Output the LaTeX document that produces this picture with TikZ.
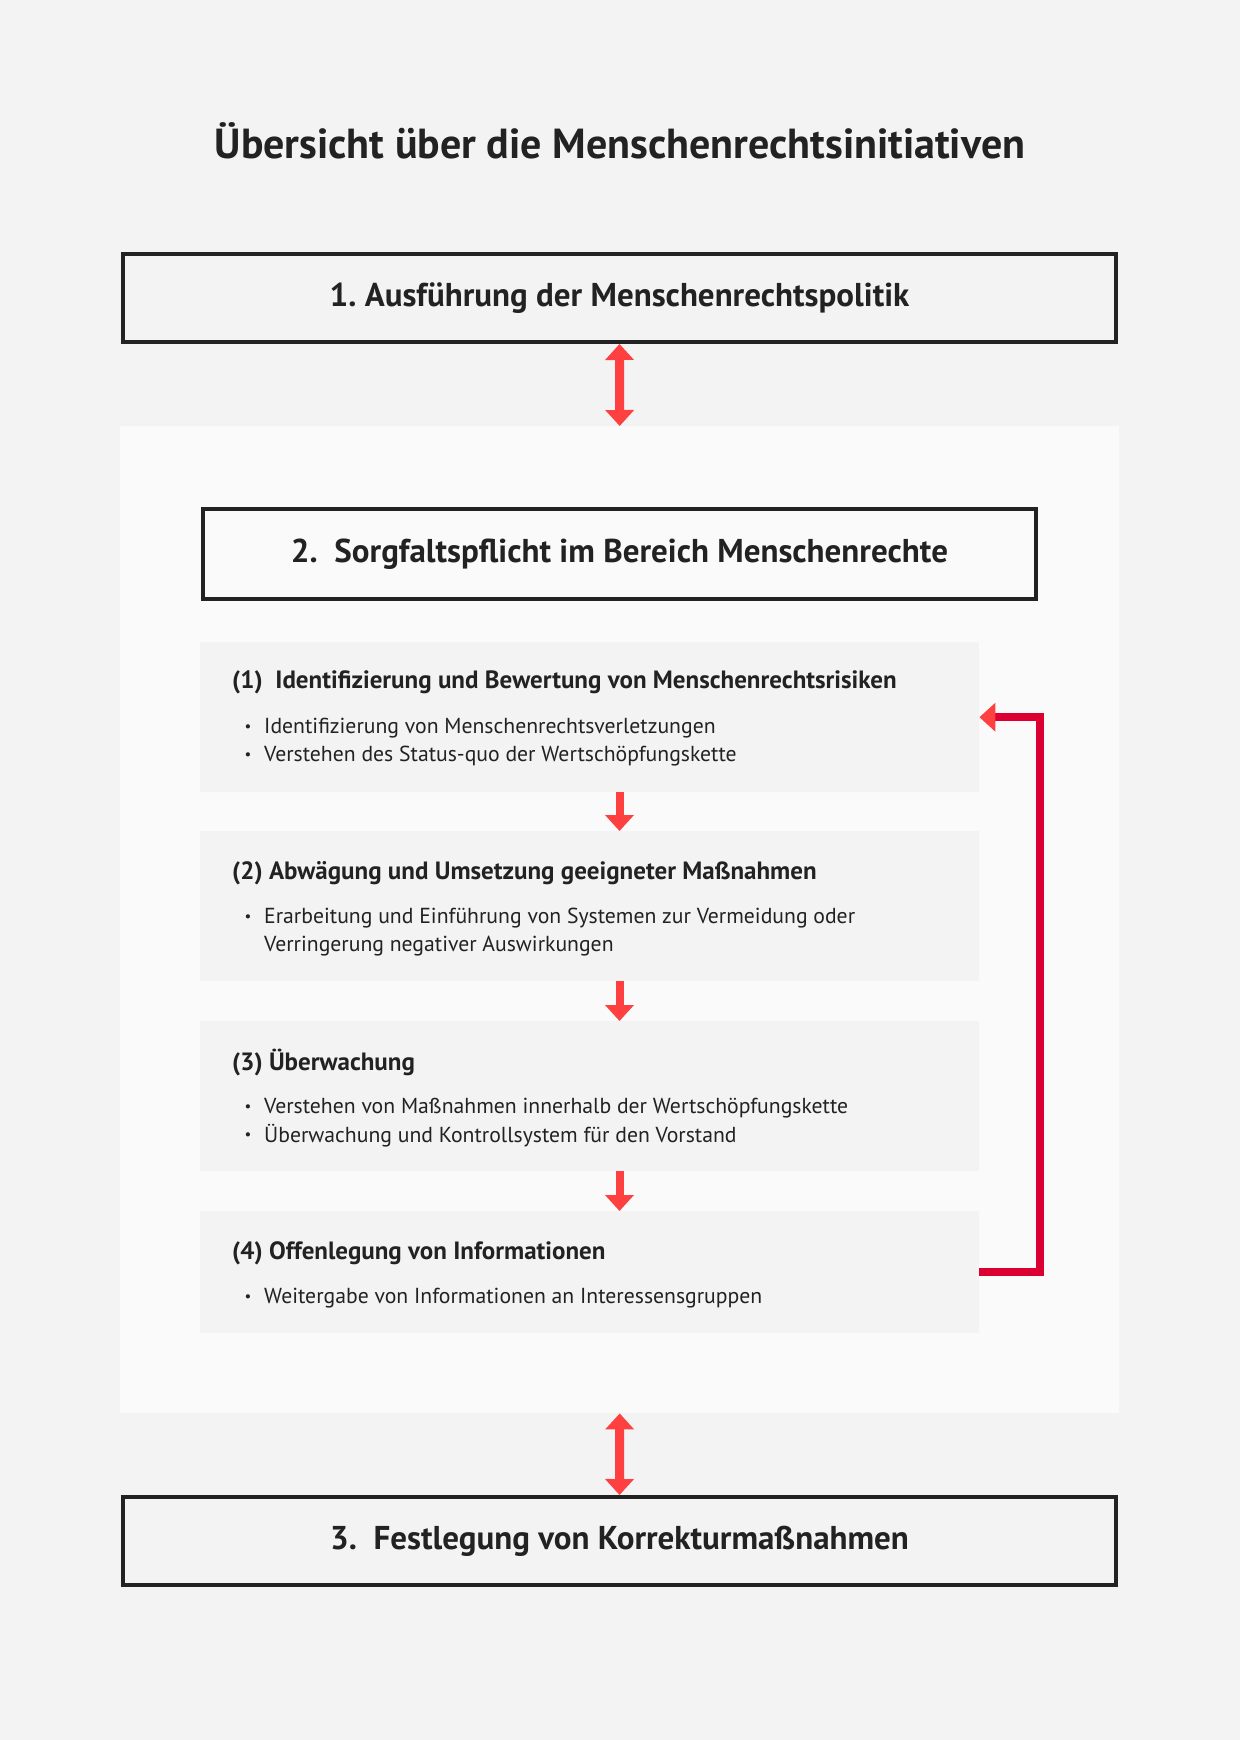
\documentclass[tikz,border=0pt]{standalone}
\usepackage{fontspec}
\setmainfont{PT Sans}
\usetikzlibrary{arrows.meta}
\definecolor{bg}{HTML}{F3F3F3}
\definecolor{panelc}{HTML}{FAFAFA}
\definecolor{stepc}{HTML}{F3F3F3}
\definecolor{ink}{HTML}{222222}
\definecolor{arrred}{HTML}{FF4040}
\definecolor{crim}{HTML}{DC0032}
\tikzset{
  mainbox/.style={draw=ink, line width=4pt, minimum width=993pt, minimum height=88pt, inner sep=0pt, text=ink, font=\fontsize{33}{38}\selectfont\bfseries},
  stepbox/.style={fill=stepc, draw=none, minimum width=779pt, anchor=north west, inner sep=0pt},
  head/.style={anchor=west, inner sep=0pt, text=ink, font=\fontsize{25}{29}\selectfont\bfseries},
  item/.style={anchor=west, inner sep=0pt, text=ink, font=\fontsize{21.7}{26}\selectfont},
  bul/.style={anchor=center, inner sep=0pt, text=ink, font=\fontsize{15}{18}\selectfont},
  dbl/.style={draw=arrred, line width=9pt, {Triangle[length=16pt,width=28pt]}-{Triangle[length=16pt,width=28pt]}},
  down/.style={draw=arrred, line width=8pt, -{Triangle[length=16pt,width=28pt]}},
  fb/.style={draw=crim, line width=8pt, line join=miter, -{Triangle[length=16pt,width=28pt,color=arrred,fill=arrred]}}
}
\begin{document}
\frenchspacing
\begin{tikzpicture}[x=1pt,y=-1pt]
\fill[bg] (0,0) rectangle (1240,1740);
\useasboundingbox (0,0) rectangle (1240,1740);
% title
\node[inner sep=0pt, text=ink, font=\fontsize{42}{48}\selectfont\bfseries] (title) at (620,141) {Übersicht über die Menschenrechtsinitiativen};
% panel
\node[fill=panelc, minimum width=999pt, minimum height=987pt, inner sep=0pt, anchor=north west] (panel) at (120,426) {};
% box 1
\node[mainbox, fill=bg] (b1) at (619.5,298) {1. Ausführung der Menschenrechtspolitik};
% box 2
\node[mainbox, minimum width=833pt, minimum height=90pt, fill=panelc] (b2) at (619.5,554) {2.\ \ Sorgfaltspflicht im Bereich Menschenrechte};
% box 3
\node[mainbox, fill=bg] (b3) at (619.5,1541) {3.\ \ Festlegung von Korrekturmaßnahmen};
% steps
\node[stepbox, minimum height=150pt] (s1) at (200,642) {};
\node[stepbox, minimum height=150pt] (s2) at (200,831) {};
\node[stepbox, minimum height=150pt] (s3) at (200,1021) {};
\node[stepbox, minimum height=122pt] (s4) at (200,1211) {};
% step texts
\node[head] (h1) at (232,682) {(1)\ \ Identifizierung und Bewertung von Menschenrechtsrisiken};
\node[bul] (i1a) at (248,728) {•};
\node[item] (t1a) at (264,728) {Identifizierung von Menschenrechtsverletzungen};
\node[bul] (i1b) at (248,756) {•};
\node[item] (t1b) at (264,756) {Verstehen des Status-quo der Wertschöpfungskette};

\node[head] (h2) at (232,873) {(2) Abwägung und Umsetzung geeigneter Maßnahmen};
\node[bul] (i2a) at (248,918) {•};
\node[item] (t2a) at (264,918) {Erarbeitung und Einführung von Systemen zur Vermeidung oder};
\node[item] (t2b) at (264,946) {Verringerung negativer Auswirkungen};

\node[head] (h3) at (232,1063) {(3) Überwachung};
\node[bul] (i3a) at (248,1108) {•};
\node[item] (t3a) at (264,1108) {Verstehen von Maßnahmen innerhalb der Wertschöpfungskette};
\node[bul] (i3b) at (248,1136) {•};
\node[item] (t3b) at (264,1136) {Überwachung und Kontrollsystem für den Vorstand};

\node[head] (h4) at (232,1253) {(4) Offenlegung von Informationen};
\node[bul] (i4a) at (248,1298) {•};
\node[item] (t4a) at (264,1298) {Weitergabe von Informationen an Interessensgruppen};
% arrows
\draw[dbl] (b1.south) -- (panel.north);
\draw[dbl] (panel.south) -- (b3.north);
\draw[down] (s1.south -| b1.south) -- (s2.north -| b1.south);
\draw[down] (s2.south -| b1.south) -- (s3.north -| b1.south);
\draw[down] (s3.south -| b1.south) -- (s4.north -| b1.south);
\coordinate (fbx) at (1040,0);
\draw[fb] (s4.east) -- (s4.east -| fbx) |- (s1.east);
\end{tikzpicture}
\end{document}
